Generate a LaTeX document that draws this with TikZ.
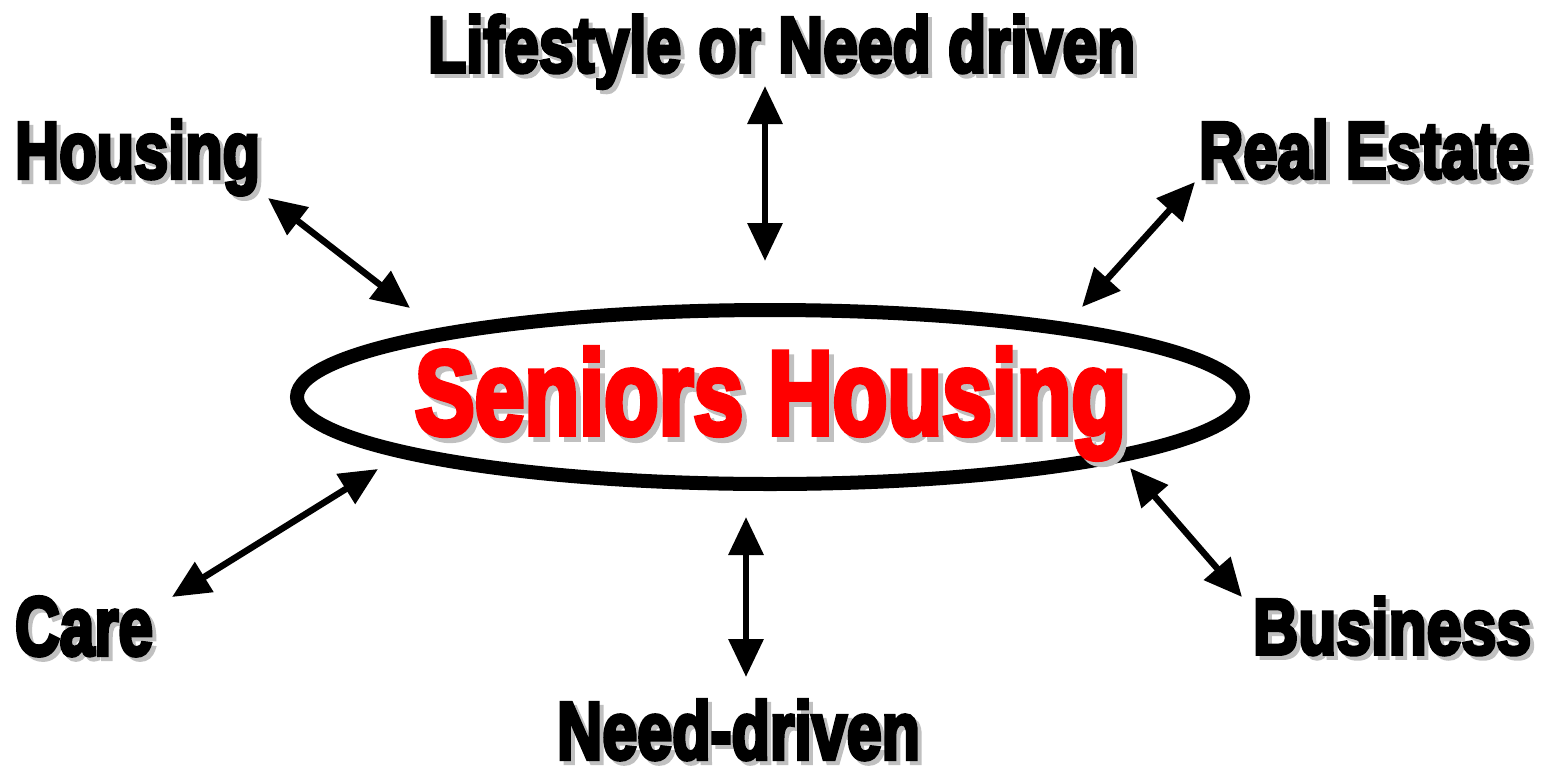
\documentclass[tikz,border=0pt]{standalone}
\usepackage{fontspec}
\setmainfont{Liberation Sans}[BoldFeatures={FakeBold=5}]
\usepackage{graphicx}
\usetikzlibrary{arrows.meta}

\definecolor{shade}{RGB}{192,192,192}
\definecolor{hred}{RGB}{255,0,0}

% squeezed heavy word with a grey shadow: colour, width, height, offset, text
\newcommand{\bigword}[5]{%
  \makebox[0pt][l]{\kern#4\raisebox{-#4}{\color{shade}\resizebox{#2}{#3}{\bfseries #5}}}%
  {\color{#1}\resizebox{#2}{#3}{\bfseries #5}}}

\tikzset{
  word/.style={anchor=base west, inner sep=0pt, outer sep=0pt},
  link/.style={{Triangle[length=38pt,width=34pt]}-{Triangle[length=38pt,width=34pt]}, line width=6.5pt},
}

\begin{document}
\begin{tikzpicture}[x=1pt,y=-1pt]
\useasboundingbox (0,0) rectangle (1555,766);

% centre
\draw[line width=14pt] (770,397) ellipse [x radius=473, y radius=87];
\node[word] (seniors) at (415,434) {\bigword{hred}{711pt}{86pt}{5pt}{Seniors Housing}};

% the six views round it
\node[word] (lifestyle) at (428,72) {\bigword{black}{707pt}{57pt}{4pt}{Lifestyle or Need driven}};
\node[word] (housing) at (15,178) {\bigword{black}{245pt}{58pt}{4pt}{Housing}};
\node[word] (realestate) at (1199,178) {\bigword{black}{331pt}{58pt}{4pt}{Real Estate}};
\node[word] (care) at (15,655) {\bigword{black}{138pt}{58pt}{4pt}{Care}};
\node[word] (business) at (1253,654) {\bigword{black}{278pt}{57pt}{4pt}{Business}};
\node[word] (needdriven) at (557,759) {\bigword{black}{363pt}{59pt}{4pt}{Need-driven}};

% arrow ends
\coordinate (ls-a) at (765,86);    \coordinate (ls-b) at (765,261);
\coordinate (ho-a) at (268,198);   \coordinate (ho-b) at (410,308);
\coordinate (re-a) at (1195,182);  \coordinate (re-b) at (1082,307);
\coordinate (ca-a) at (172,597);   \coordinate (ca-b) at (378,469);
\coordinate (bu-a) at (1242,597);  \coordinate (bu-b) at (1130,468);
\coordinate (nd-a) at (746,677);   \coordinate (nd-b) at (746,517);

\foreach \v in {ls,ho,re,ca,bu,nd}
  \draw[link] (\v-a) -- (\v-b);
\end{tikzpicture}
\end{document}
